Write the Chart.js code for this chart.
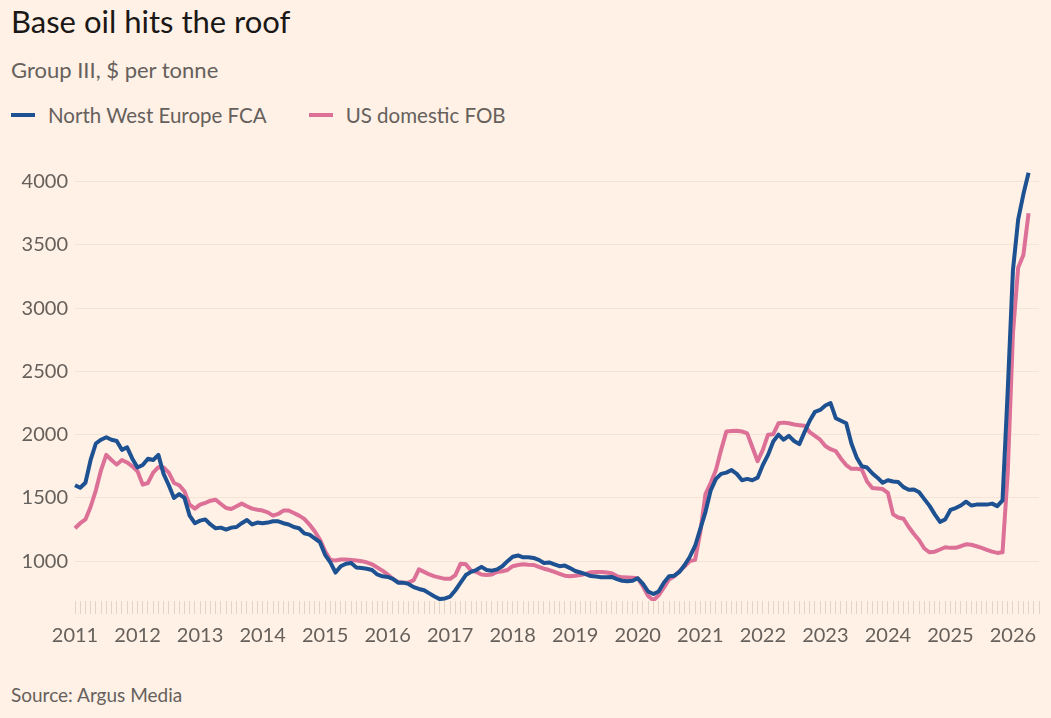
<!DOCTYPE html>
<html>
<head>
<meta charset="utf-8">
<script src="https://cdn.jsdelivr.net/npm/chart.js@4.4.1/dist/chart.umd.min.js"></script>
<style>
  body { margin: 0; background: #fff1e5; width: 1051px; height: 718px; overflow: hidden; position: relative; font-family: Lato, sans-serif; }
  .title { position: absolute; left: 11px; top: 3px; font-size: 31px; line-height: 36px; color: #1a1817; }
  .sub { position: absolute; left: 11px; top: 57px; font-size: 22px; line-height: 26px; color: #66605c; }
  #legend { position: absolute; left: 11px; top: 102px; font-size: 20.5px; line-height: 26px; color: #66605c; display: flex; }
  .item { display: flex; align-items: center; margin-right: 42px; }
  .sw { width: 24px; height: 4px; margin-right: 13px; }
  .chart { position: absolute; left: 0; top: 150px; width: 1051px; height: 510px; }
  .source { position: absolute; left: 11px; top: 683px; font-size: 19px; line-height: 24px; color: #66605c; }
</style>
</head>
<body>
<div class="title">Base oil hits the roof</div>
<div class="sub">Group III, $ per tonne</div>
<div id="legend"></div>
<div class="chart"><canvas id="baseOilChart"></canvas></div>
<div class="source">Source: Argus Media</div>
<script>
// monthly points, Jan 2011 onwards; axis runs to Jun 2026
const years = ['2011', '2012', '2013', '2014', '2015', '2016', '2017', '2018', '2019', '2020', '2021', '2022', '2023', '2024', '2025', '2026'];
const lastYearMonths = 6;
const yTicks = [1000, 1500, 2000, 2500, 3000, 3500, 4000];
const seriesNames = ['North West Europe FCA', 'US domestic FOB'];
const seriesColors = ['#1d5191', '#dc7097'];

const nweFca = [
  1600, 1580, 1620, 1800, 1930, 1960, 1980, 1960, 1950, 1880,
  1900, 1810, 1740, 1760, 1810, 1800, 1840, 1690, 1600, 1500,
  1530, 1500, 1360, 1300, 1320, 1330, 1290, 1260, 1265, 1250,
  1265, 1270, 1300, 1325, 1290, 1305, 1300, 1305, 1315, 1315,
  1300, 1290, 1270, 1260, 1220, 1210, 1180, 1150, 1050, 990,
  910, 960, 980, 985, 950, 945, 940, 930, 895, 880,
  875, 860, 830, 830, 820, 795, 780, 770, 745, 720,
  700, 705, 720, 770, 830, 890, 915, 930, 955, 930,
  925, 935, 960, 1000, 1035, 1045, 1030, 1030, 1025, 1010,
  985, 990, 975, 960, 965, 945, 922, 910, 898, 882,
  878, 872, 872, 875, 858, 845, 842, 845, 865, 820,
  760, 740, 760, 830, 880, 885, 915, 970, 1035, 1120,
  1255, 1390, 1560, 1650, 1690, 1700, 1720, 1690, 1640, 1650,
  1640, 1660, 1760, 1840, 1946, 2000, 1960, 1990, 1950, 1925,
  2020, 2110, 2180, 2195, 2230, 2250, 2130, 2110, 2090, 1930,
  1820, 1750, 1740, 1695, 1660, 1620, 1640, 1630, 1625, 1585,
  1565, 1567, 1545, 1490, 1437, 1370, 1310, 1330, 1405, 1420,
  1440, 1470, 1440, 1447, 1447, 1447, 1455, 1435, 1480, 2350,
  3300, 3700, 3900, 4070
];

const usFob = [
  1260, 1300, 1330, 1430, 1560, 1720, 1840, 1800, 1763, 1800,
  1780, 1750, 1710, 1605, 1618, 1700, 1743, 1740, 1700, 1618,
  1600, 1552, 1447, 1415, 1447, 1460, 1478, 1486, 1452, 1420,
  1413, 1434, 1455, 1434, 1415, 1407, 1400, 1386, 1360, 1373,
  1400, 1400, 1381, 1360, 1334, 1289, 1236, 1170, 1079, 1010,
  1005, 1013, 1013, 1010, 1005, 1000, 990, 975, 950, 925,
  895, 860, 835, 830, 830, 850, 935, 915, 895, 880,
  870, 860, 860, 890, 980, 975, 925, 915, 895, 890,
  895, 915, 920, 930, 960, 970, 975, 972, 970, 955,
  940, 930, 915, 900, 885, 880, 885, 890, 900, 912,
  915, 915, 910, 905, 882, 872, 870, 868, 865, 800,
  725, 690, 730, 790, 855, 880, 920, 960, 1000, 1010,
  1230, 1530, 1620, 1720, 1880, 2025, 2028, 2030, 2025, 2010,
  1900, 1790, 1880, 2000, 2004, 2090, 2095, 2090, 2080, 2075,
  2070, 2020, 1990, 1960, 1910, 1885, 1870, 1810, 1760, 1730,
  1730, 1725, 1630, 1578, 1575, 1570, 1540, 1370, 1345, 1335,
  1270, 1215, 1165, 1100, 1070, 1075, 1092, 1110, 1105, 1105,
  1118, 1133, 1130, 1118, 1105, 1090, 1075, 1065, 1070, 1700,
  2800, 3320, 3420, 3750
];

const months = [];
years.forEach((y, yi) => {
  const n = yi === years.length - 1 ? lastYearMonths : 12;
  for (let m = 1; m <= n; m++) months.push(y + '-' + String(m).padStart(2, '0'));
});

// legend as plain html
const legendEl = document.getElementById('legend');
seriesNames.forEach((name, i) => {
  const item = document.createElement('div');
  item.className = 'item';
  item.innerHTML = '<span class="sw" style="background:' + seriesColors[i] + '"></span>' + name;
  legendEl.appendChild(item);
});

const tickFont = { family: 'Lato', size: 20 };
const ctx = document.getElementById('baseOilChart').getContext('2d');

new Chart(ctx, {
  type: 'line',
  data: {
    labels: months,
    datasets: [
      { label: seriesNames[0], data: nweFca, borderColor: seriesColors[0], borderWidth: 4, pointRadius: 0, tension: 0, borderJoinStyle: 'round' },
      { label: seriesNames[1], data: usFob, borderColor: seriesColors[1], borderWidth: 4, pointRadius: 0, tension: 0, borderJoinStyle: 'round' }
    ]
  },
  options: {
    responsive: true,
    maintainAspectRatio: false,
    animation: false,
    layout: { padding: { left: 20, right: 12, top: 17, bottom: 2 } },
    plugins: {
      legend: { display: false },
      tooltip: { enabled: false }
    },
    scales: {
      x: {
        offset: false,
        border: { display: false },
        grid: { drawOnChartArea: false, tickLength: 13, color: '#e2d4c7', lineWidth: 1 },
        ticks: {
          autoSkip: false,
          maxRotation: 0,
          minRotation: 0,
          padding: 10,
          color: '#66605c',
          font: tickFont,
          callback: (v, i) => (i % 12 === 0 ? months[i].slice(0, 4) : '')
        }
      },
      y: {
        min: 685,
        max: 4100,
        border: { display: false },
        grid: { color: '#f5e4d6', drawTicks: false },
        ticks: { padding: 7, color: '#66605c', font: tickFont, callback: v => String(v) },
        afterBuildTicks: (scale) => {
          scale.ticks = yTicks.map(v => ({ value: v }));
        },
        afterFit: (scale) => { scale.width = 55; }
      }
    }
  }
});
</script>
</body>
</html>
